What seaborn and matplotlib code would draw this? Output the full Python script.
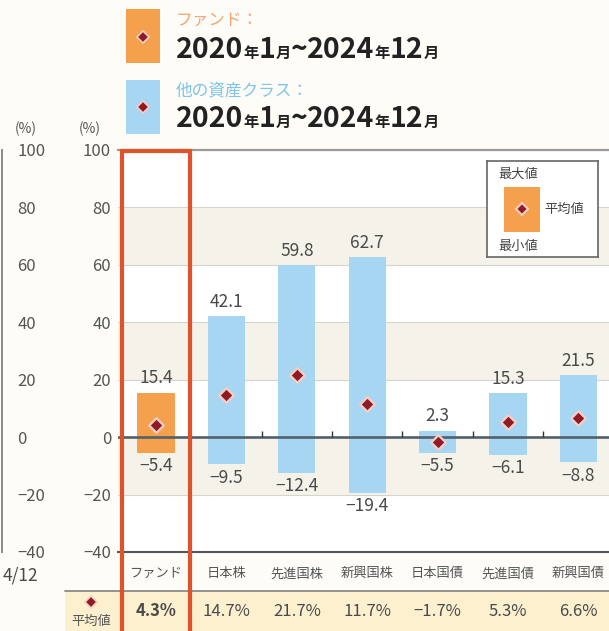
import numpy as np
import pandas as pd
import matplotlib
matplotlib.use("Agg")
import matplotlib.pyplot as plt
import matplotlib.patches as mpatches
from matplotlib.lines import Line2D
import seaborn as sns

# ---------------- data ----------------
categories = ["ファンド", "日本株", "先進国株", "新興国株", "日本国債", "先進国債", "新興国債"]
max_vals = [15.4, 42.1, 59.8, 62.7, 2.3, 15.3, 21.5]
min_vals = [-5.4, -9.5, -12.4, -19.4, -5.5, -6.1, -8.8]
avg_vals = [4.3, 14.7, 21.7, 11.7, -1.7, 5.3, 6.6]
y_ticks = [-40, -20, 0, 20, 40, 60, 80, 100]
legend_period = ["2020", "年", "1", "月", "~", "2024", "年", "12", "月"]

ORANGE = "#f4a04c"
BLUE = "#a6d6f2"
DIAMOND = "#8e1b25"
RED = "#e0522a"
TXT = "#4a4a4a"
bar_colors = [ORANGE] + [BLUE] * (len(categories) - 1)

sns.set_theme(style="white")
plt.rcParams["font.family"] = ["Noto Sans CJK JP", "DejaVu Sans"]
plt.rcParams["axes.unicode_minus"] = True

W, H = 609, 631
fig = plt.figure(figsize=(W / 100, H / 100), dpi=100, facecolor="#fdfcf7")


def fx(x):
    return x / W


def fy(y):
    return 1 - y / H


def fmt(v):
    s = f"{abs(v):.1f}"
    return ("−" + s) if v < 0 else s


# ---------------- main axes ----------------
top_px, bot_px, left_px = 150, 552, 118
ax = fig.add_axes([fx(left_px), fy(bot_px), fx(W - left_px), (bot_px - top_px) / H])
ax.set_facecolor("white")

for lo, hi in [(60, 80), (20, 40), (-20, 0)]:
    ax.axhspan(lo, hi, color="#f4f2e9", zorder=0, lw=0)

df = pd.DataFrame({"cat": categories, "mx": max_vals, "mn": min_vals, "avg": avg_vals})
pal = dict(zip(categories, bar_colors))
sns.barplot(data=df, x="cat", y="mx", hue="cat", palette=pal, order=categories,
            width=0.53, saturation=1, legend=False, errorbar=None, ax=ax, zorder=2, linewidth=0)
sns.barplot(data=df, x="cat", y="mn", hue="cat", palette=pal, order=categories,
            width=0.53, saturation=1, legend=False, errorbar=None, ax=ax, zorder=2, linewidth=0)
sns.scatterplot(data=df, x="cat", y="avg", marker="D", s=55, color=DIAMOND,
                edgecolor="#f6cfc6", linewidth=1.6, ax=ax, zorder=5, legend=False)

ax.set_ylim(-40, 100)
ax.set_yticks(y_ticks)
ax.set_xlim(-0.54, 6.435)
ax.grid(axis="y", color="#d6d4cc", lw=0.8, zorder=1)
ax.set_axisbelow(True)
ax.axhline(0, color="#52606b", lw=1.9, zorder=4)
ax.vlines(np.arange(1.5, len(categories) - 1, 1.0), 0, 2.0, color="#333333", lw=1, zorder=4)

for s in ["left", "right"]:
    ax.spines[s].set_visible(False)
ax.spines["top"].set_color("#9a9a9a")
ax.spines["top"].set_linewidth(1.6)
ax.spines["bottom"].set_color("#555555")
ax.spines["bottom"].set_linewidth(1.5)
ax.set_xlabel("")
ax.set_ylabel("")
ax.tick_params(axis="y", length=0, pad=5, labelsize=12, labelcolor="#555555")
ax.tick_params(axis="x", length=0, pad=11, labelsize=9.5, labelcolor="#555555")

for i, (mx, mn) in enumerate(zip(max_vals, min_vals)):
    ax.annotate(fmt(mx), (i, mx), xytext=(0, 4), textcoords="offset points",
                ha="center", va="bottom", fontsize=12.5, color=TXT, zorder=6)
    ax.annotate(fmt(mn), (i, mn), xytext=(0, -3), textcoords="offset points",
                ha="center", va="top", fontsize=12.5, color=TXT, zorder=6)

# legend box inside plot
lax = fig.add_axes([fx(487), fy(257), fx(111), (257 - 161) / H])
lax.set_xlim(0, 1)
lax.set_ylim(0, 1)
lax.set_xticks([])
lax.set_yticks([])
lax.set_facecolor("white")
for s in lax.spines.values():
    s.set_color("#666666")
    s.set_linewidth(1.2)
lax.add_patch(mpatches.Rectangle((0.15, 0.26), 0.33, 0.47, color=ORANGE, lw=0))
lax.plot([0.315], [0.495], marker="D", ms=6.5, color=DIAMOND, mec="#f6cfc6", mew=1.5)
lax.text(0.1, 0.86, "最大値", fontsize=9.5, color="#444444", va="center", ha="left")
lax.text(0.1, 0.11, "最小値", fontsize=9.5, color="#444444", va="center", ha="left")
lax.text(0.52, 0.495, "平均値", fontsize=9.5, color="#444444", va="center", ha="left")

# ---------------- partial left panel ----------------
ax2 = fig.add_axes([fx(-40), fy(bot_px), fx(42), (bot_px - top_px) / H])
ax2.set_facecolor("none")
ax2.set_ylim(-40, 100)
ax2.set_yticks(y_ticks)
ax2.set_xticks([])
ax2.yaxis.tick_right()
for s in ["left", "top", "bottom"]:
    ax2.spines[s].set_visible(False)
ax2.spines["right"].set_color("#8a8a8a")
ax2.spines["right"].set_linewidth(1.4)
ax2.tick_params(axis="y", length=0, pad=11, labelsize=12, labelcolor="#555555")
fig.text(fx(38), fy(575), "4/12", fontsize=12.5, color=TXT, ha="right", va="center")

fig.text(fx(26), fy(129), "(%)", fontsize=10, color="#555555", ha="center", va="center")
fig.text(fx(90), fy(129), "(%)", fontsize=10, color="#555555", ha="center", va="center")

# ---------------- bottom average row ----------------
fig.add_artist(mpatches.Rectangle((fx(65), 0), fx(W - 65), fy(591), transform=fig.transFigure,
                                  color="#fcf0cf", lw=0, zorder=1))
fig.add_artist(Line2D([fx(65), 1], [fy(591), fy(591)], transform=fig.transFigure,
                      color="#8a8a8a", lw=1.3, zorder=2))
for i, v in enumerate(avg_vals):
    xd = ax.transData.transform((i, 0))[0]
    fig.text(xd / W, fy(611), f"{fmt(v)}%", fontsize=12, color=TXT, ha="center", va="center",
             weight="bold" if i == 0 else "normal", zorder=4)
fig.add_artist(Line2D([fx(91)], [fy(602)], marker="D", ms=6, color=DIAMOND, mec="#f6cfc6",
                      mew=1.2, transform=fig.transFigure, zorder=4))
fig.text(fx(91), fy(621), "平均値", fontsize=9.5, color="#555555", ha="center", va="center", zorder=4)

# ---------------- red highlight box ----------------
fig.add_artist(mpatches.Rectangle((fx(122), fy(660)), fx(68), (660 - 151) / H,
                                  transform=fig.transFigure, fill=False, edgecolor=RED,
                                  lw=3.0, zorder=5))

# ---------------- top legend ----------------
fig.add_artist(mpatches.Rectangle((fx(126), fy(63)), fx(34), 54 / H, transform=fig.transFigure,
                                  color=ORANGE, lw=0, zorder=2))
fig.add_artist(mpatches.Rectangle((fx(126), fy(134)), fx(34), 54 / H, transform=fig.transFigure,
                                  color=BLUE, lw=0, zorder=2))
for yy in [37, 107]:
    fig.add_artist(Line2D([fx(143)], [fy(yy)], marker="D", ms=6, color=DIAMOND, mec="#f6cfc6",
                          mew=1.2, transform=fig.transFigure, zorder=3))

fig.text(fx(176), fy(20), "ファンド：", fontsize=12, color="#f2a676", ha="left", va="center")
fig.text(fx(176), fy(91), "他の資産クラス：", fontsize=12, color="#7fc4ea", ha="left", va="center")

renderer = fig.canvas.get_renderer()


def seq_text(x_px, base_px, parts):
    x = x_px
    for s in parts:
        small = s in ("年", "月")
        t = fig.text(fx(x), fy(base_px), s, fontsize=11 if small else 20.5, weight="bold",
                     color="#222222", ha="left", va="baseline")
        x += t.get_window_extent(renderer).width


seq_text(176, 58, legend_period)
seq_text(176, 127, legend_period)

fig.savefig("out.png", dpi=100, facecolor=fig.get_facecolor())
